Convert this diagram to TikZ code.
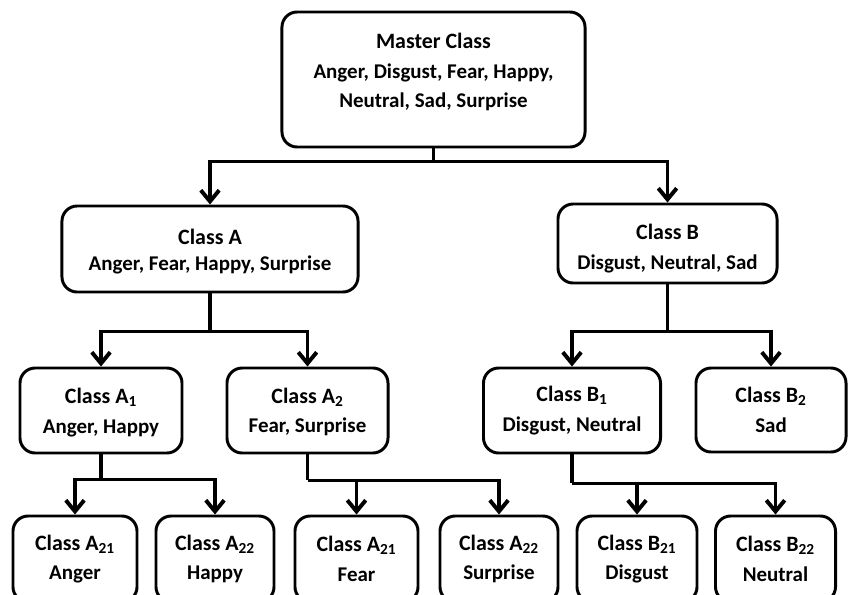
\documentclass[tikz,border=0pt]{standalone}
\usepackage{fontspec}
\setmainfont{Carlito}
\usetikzlibrary{arrows.meta}
\tikzset{box/.style={
    draw,
    line width=2.1pt,
    rounded corners=0.38cm,
    align=center,
    inner sep=0pt,
    font=\bfseries\fontsize{14.9}{21}\selectfont}}
\tikzset{link/.style={
    line width=2.8pt}}
\tikzset{arr/.style={
    link,
    -{Straight Barb[length=2.8mm,width=4.6mm]}}}
\newcommand{\ttl}[1]{{\fontsize{15.6}{21}\selectfont #1}}

\begin{document}
\begin{tikzpicture}[x=0.025cm, y=-0.025cm]

\clip (0,0) rectangle (849,594);

\node[box,
  minimum width=7.575cm,
  minimum height=3.375cm] (master) at (433.5,79.5)
  {\ttl{Master Class}\\Anger, Disgust, Fear, Happy,\\Neutral, Sad, Surprise\rule[-12.5pt]{0pt}{0pt}};

\node[box,
  minimum width=7.4cm,
  minimum height=2.15cm] (cla) at (210,249)
  {\rule{0pt}{15pt}\ttl{Class A}\\[-2.5pt]Anger, Fear, Happy, Surprise};

\node[box,
  minimum width=5.475cm,
  minimum height=1.975cm] (clb) at (667.5,243.5)
  {\rule{0pt}{18pt}\ttl{Class B}\\Disgust, Neutral, Sad};

\node[box,
  minimum width=4.05cm,
  minimum height=2.125cm] (cla1) at (101,410.5)
  {\rule{0pt}{14pt}\ttl{Class A\textsubscript{1}}\\Anger, Happy};

\node[box,
  minimum width=4.025cm,
  minimum height=2.125cm] (cla2) at (307.5,410.5)
  {\rule{0pt}{13pt}\ttl{Class A\textsubscript{2}}\\Fear, Surprise};

\node[box,
  minimum width=4.425cm,
  minimum height=2.125cm] (clb1) at (572,410.5)
  {\ttl{Class B\textsubscript{1}}\\Disgust, Neutral};

\node[box,
  minimum width=3.75cm,
  minimum height=2.1cm] (clb2) at (771,410)
  {\ttl{Class B\textsubscript{2}}\\Sad};

% bottom row, cut by the lower edge
\node[box,
  minimum width=3.1cm,
  minimum height=2.15cm] (ca1a) at (75,559)
  {\ttl{Class A\textsubscript{21}}\\Anger};

\node[box,
  minimum width=2.95cm,
  minimum height=2.15cm] (ca1b) at (215,559)
  {\ttl{Class A\textsubscript{22}}\\Happy};

\node[box,
  minimum width=3.075cm,
  minimum height=2.15cm] (ca2a) at (356.5,559)
  {\ttl{Class A\textsubscript{21}}\\Fear};

\node[box,
  minimum width=2.95cm,
  minimum height=2.15cm] (ca2b) at (499,559)
  {\ttl{Class A\textsubscript{22}}\\Surprise};

\node[box,
  minimum width=3cm,
  minimum height=2.15cm] (cb1a) at (637,559)
  {\ttl{Class B\textsubscript{21}}\\Disgust};

\node[box,
  minimum width=3cm,
  minimum height=2.15cm] (cb1b) at (775.5,559)
  {\ttl{Class B\textsubscript{22}}\\Neutral};

% connectors
\draw[link] (master.south) -- ++(0,13) coordinate (mbar);
\draw[arr] (mbar) -| (cla.north);
\draw[arr] (mbar) -| (clb.north);

\draw[link] (cla.south) -- ++(0,38) coordinate (abar);
\draw[arr] (abar) -| (cla1.north);
\draw[arr] (abar) -| (cla2.north);

\draw[link] (clb.south) -- ++(0,47) coordinate (bbar);
\draw[arr] (bbar) -| (clb1.north);
\draw[arr] (bbar) -| (clb2.north);

\draw[link] (cla1.south) -- ++(0,25) coordinate (a1bar);
\draw[arr] (a1bar) -| (ca1a.north);
\draw[arr] (a1bar) -| (ca1b.north);

\draw[link] (cla2.south) -- ++(0,26) coordinate (a2bar);
\draw[arr] (a2bar) -| (ca2a.north);
\draw[arr] (a2bar) -| (ca2b.north);

\draw[link] (clb1.south) -- ++(0,29) coordinate (b1bar);
\draw[arr] (b1bar) -| (cb1a.north);
\draw[arr] (b1bar) -| (cb1b.north);

\end{tikzpicture}
\end{document}
